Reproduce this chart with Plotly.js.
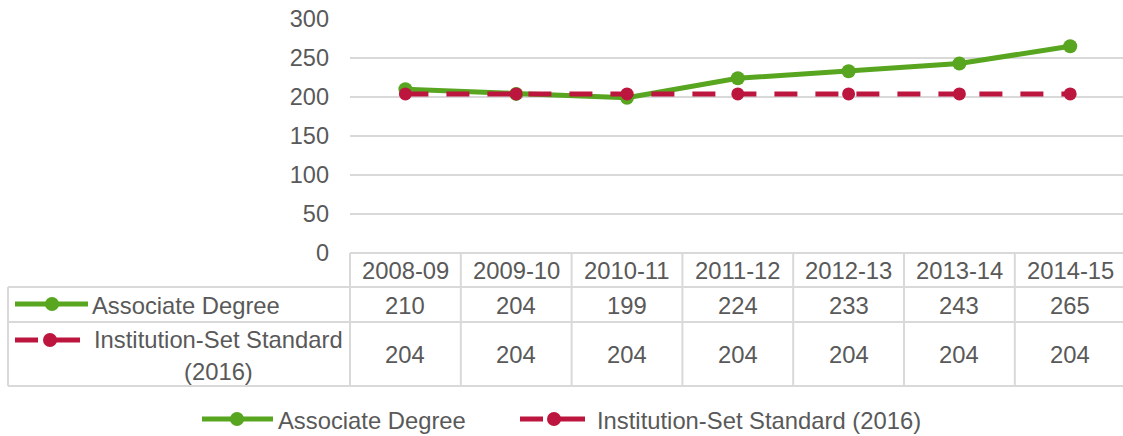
<!DOCTYPE html>
<html><head><meta charset="utf-8">
<script src="https://cdn.plot.ly/plotly-3.0.1.min.js"></script>
<style>html,body{margin:0;padding:0;overflow:hidden;background:#fff}#chart{width:1123px;height:436px}</style>
</head><body><div id="chart"></div>
<script>
// ---- data ----
const categories = ['2008-09','2009-10','2010-11','2011-12','2012-13','2013-14','2014-15'];
const associateDegree = [210,204,199,224,233,243,265];
const institutionStandard = [204,204,204,204,204,204,204];
const seriesNames = ['Associate Degree','Institution-Set Standard (2016)'];
const yTickValues = [0,50,100,150,200,250,300];

// ---- style ----
const GREEN = '#58A51F';
const RED = '#BC163E';
const TEXT = '#595959';
const GRID = '#D9D9D9';
const FONT = 'Liberation Sans, Arial, sans-serif';
const FS = 23.8;

const W = 1123, H = 436, ML = 350, MR = 0, MT = 19, MB = 183;
const PW = W - ML - MR, PH = H - MT - MB;
const X_MIN = -0.5, X_MAX = 6.4765;
const px = x => (x - ML) / PW;           // pixel -> paper x
const py = y => (H - MB - y) / PH;       // pixel -> paper y
const cx = v => (v - X_MIN) / (X_MAX - X_MIN); // category coord -> paper x

const traces = [
  {x: categories, y: associateDegree, name: seriesNames[0], type: 'scatter', mode: 'lines+markers',
   line: {color: GREEN, width: 5}, marker: {color: GREEN, size: 14}, cliponaxis: false},
  {x: categories, y: institutionStandard, name: seriesNames[1], type: 'scatter', mode: 'lines+markers',
   line: {color: RED, width: 5, dash: '23px,18px'}, marker: {color: RED, size: 13}, cliponaxis: false}
];

const shapes = [];
const annotations = [];
const hline = (x0, x1, y) => shapes.push({type:'line', xref:'paper', yref:'paper', x0:px(x0), x1:px(x1), y0:py(y), y1:py(y), line:{color:GRID, width:2}});
const vline = (x, y0, y1) => shapes.push({type:'line', xref:'paper', yref:'paper', x0:x, x1:x, y0:py(y0), y1:py(y1), line:{color:GRID, width:2}});

// table grid
const TOP = 253, R1 = 287, R2 = 322, BOT = 386, LEFT = 8;
hline(ML, W + 5, TOP);
hline(LEFT, W + 5, R1);
hline(LEFT, W + 5, R2);
hline(LEFT, W + 5, BOT);
vline(px(LEFT), R1, BOT);
vline(px(ML), TOP, BOT);
for (let k = 0; k < categories.length - 1; k++) vline(cx(k + 0.5), TOP, BOT);

// table text
const txt = (x, xref, y, text, xanchor) => annotations.push({x, xref, y: py(y), yref:'paper', text, showarrow:false,
  xanchor: xanchor || 'center', yanchor:'middle', font:{family:FONT, size:FS, color:TEXT}});
categories.forEach((c, i) => {
  txt(c, 'x', 270, c);
  txt(c, 'x', 305, String(associateDegree[i]));
  txt(c, 'x', 354, String(institutionStandard[i]));
});

// legend symbols helper
function symbol(x0, x1, y, color, dashed, mx) {
  if (dashed) {
    shapes.push({type:'line', xref:'paper', yref:'paper', x0:px(x0), x1:px(x0+23), y0:py(y), y1:py(y), line:{color, width:5}});
    shapes.push({type:'line', xref:'paper', yref:'paper', x0:px(mx+3), x1:px(x1), y0:py(y), y1:py(y), line:{color, width:5}});
  } else {
    shapes.push({type:'line', xref:'paper', yref:'paper', x0:px(x0), x1:px(x1), y0:py(y), y1:py(y), line:{color, width:5}});
  }
  shapes.push({type:'circle', xref:'paper', yref:'paper', xsizemode:'pixel', ysizemode:'pixel',
    xanchor:px(mx), yanchor:py(y), x0:-7, x1:7, y0:-7, y1:7, fillcolor:color, line:{width:0}});
}

// row headers
symbol(15, 88, 304, GREEN, false, 52);
txt(px(90), 'paper', 305, seriesNames[0], 'left');
symbol(15, 80, 340, RED, true, 50);
txt(px(218), 'paper', 339, 'Institution-Set Standard', 'center');
txt(px(218), 'paper', 371, '(2016)', 'center');

// bottom legend
symbol(202, 273, 419, GREEN, false, 237);
txt(px(276), 'paper', 420, seriesNames[0], 'left');
symbol(520, 585, 419, RED, true, 554);
txt(px(595), 'paper', 420, seriesNames[1], 'left');

const layout = {
  width: W, height: H,
  margin: {l: ML, r: MR, t: MT, b: MB, pad: 0},
  paper_bgcolor: '#fff', plot_bgcolor: '#fff',
  showlegend: false,
  font: {family: FONT, size: FS, color: TEXT},
  xaxis: {type: 'category', range: [X_MIN, X_MAX], showticklabels: false, showgrid: false, zeroline: false, showline: false, ticks: ''},
  yaxis: {range: [0, 300], tickvals: yTickValues, showgrid: true, gridcolor: GRID, gridwidth: 2, zeroline: false,
    showline: false, ticks: '', ticklabelstandoff: 20, tickfont: {family: FONT, size: 23.5, color: TEXT}},
  shapes, annotations
};

Plotly.newPlot('chart', traces, layout, {staticPlot: true, displayModeBar: false});
</script>
</body></html>
